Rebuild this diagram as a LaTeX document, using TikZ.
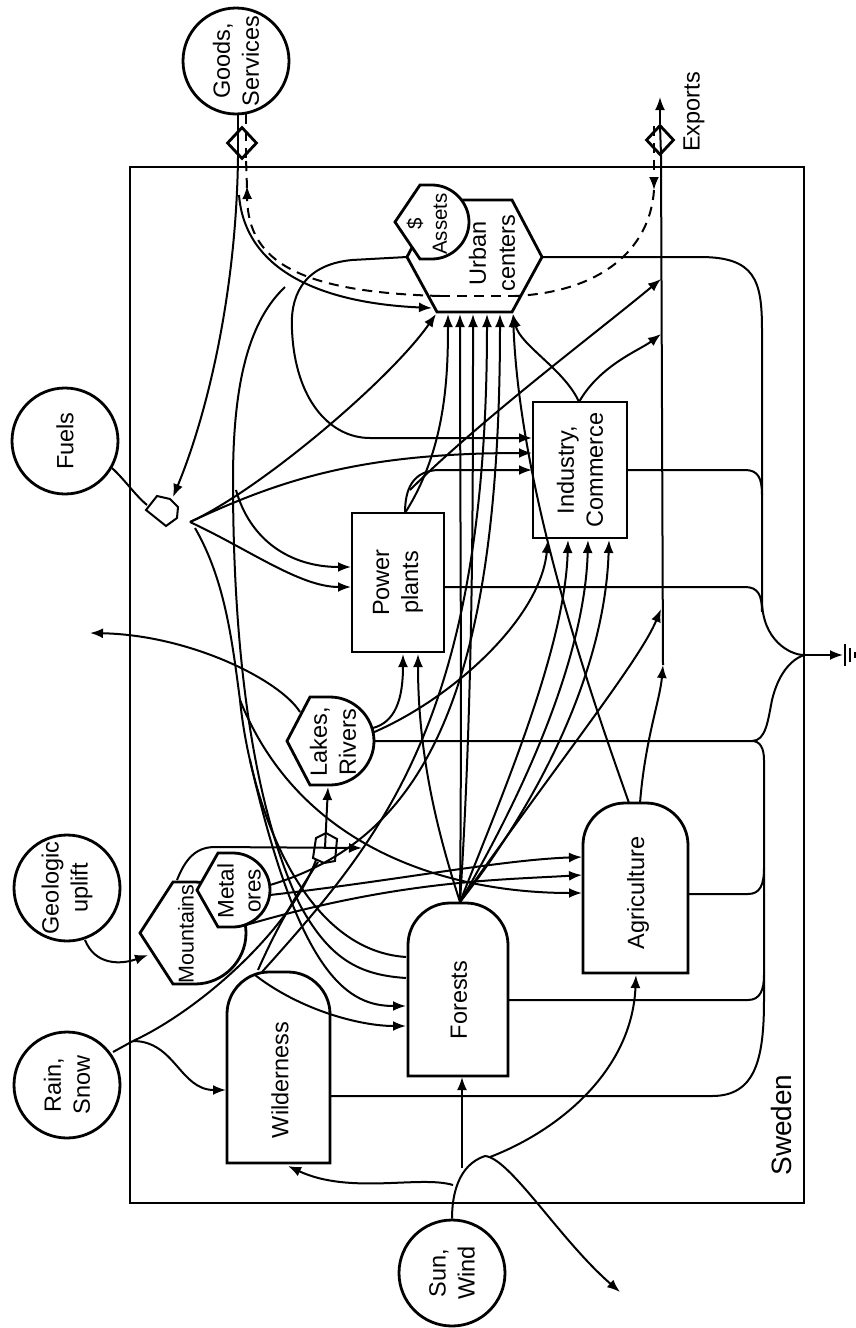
\documentclass[tikz,border=0pt]{standalone}
\usepackage{fontspec}
\setmainfont{Liberation Sans}
\usetikzlibrary{arrows.meta,shapes.geometric}
\newcommand\dgf{\fontsize{23.5}{29}\selectfont}
\begin{document}
\begin{tikzpicture}[x=1pt,y=-1pt,
  ln/.style={line width=2pt},
  arr/.style={line width=2pt,-{Latex[length=13pt,width=10pt]}},
  money/.style={line width=2pt,dash pattern=on 10pt off 7pt},
  shp/.style={draw,line width=2.8pt,fill=white},
  src/.style={shp,circle,minimum size=106pt,inner sep=0pt},
  blk/.style={shp,rectangle,inner sep=0pt},
  lab/.style={font=\dgf,align=center,rotate=90,inner sep=0pt},
  tx/.style={shp,diamond,minimum width=30pt,minimum height=32pt,inner sep=0pt}
]
\useasboundingbox (0,0) rectangle (856,1328);
\draw[line width=2.8pt] (130,167) rectangle (804,1203);
\node[lab,font=\fontsize{28}{32}\selectfont] (swe) at (781,1125) {Sweden};

% ---------- sources
\node[src] (goods) at (236,61) {}; \node[lab] at (goods) {Goods,\\Services};
\node[src] (fuels) at (65,441) {}; \node[lab] at (fuels) {Fuels};
\node[src] (geo) at (67,888) {}; \node[lab] at (geo) {Geologic\\uplift};
\node[src] (rain) at (67,1085) {}; \node[lab] at (rain) {Rain,\\Snow};
\node[src] (sun) at (452,1273) {}; \node[lab] at (sun) {Sun,\\Wind};

% ---------- storages / units
\node[blk,minimum width=92pt,minimum height=139pt] (pp) at (398,582.5) {};
\node[lab] at (pp) {Power\\plants};
\node[blk,minimum width=94pt,minimum height=136pt] (ind) at (580,470) {};
\node[lab] at (ind) {Industry,\\Commerce};

\draw[shp] (227,1163) -- (227,1014) .. controls (227,991) and (246,972) .. (269,972) -- (288,972) .. controls (311,972) and (330,991) .. (330,1014) -- (330,1163) -- cycle;
\node[lab] (wild) at (280,1080) {Wilderness};
\draw[shp] (408,1076) -- (408,945) .. controls (408,922) and (427,903) .. (450,903) -- (466,903) .. controls (489,903) and (508,922) .. (508,945) -- (508,1076) -- cycle;
\node[lab] (for) at (459,1000) {Forests};
\draw[shp] (583,973) -- (583,845) .. controls (583,822) and (602,803) .. (625,803) -- (646,803) .. controls (669,803) and (688,822) .. (688,845) -- (688,973) -- cycle;
\node[lab] (agr) at (638,893) {Agriculture};

\draw[shp] (407,257) -- (437,200) -- (512,200) -- (542,257) -- (512,312) -- (437,312) -- cycle;
\node[lab] (urb) at (492,253) {Urban\\centers};
\draw[shp] (395,222) -- (420,185) -- (432,185) .. controls (452,185) and (469,202) .. (469,222) .. controls (469,242) and (452,259) .. (432,259) -- (420,259) -- cycle;
\node[lab,font=\fontsize{20.5}{25}\selectfont] (ast) at (427,224) {\$\\Assets};

\draw[shp] (287,741) -- (310,697) -- (330,697) .. controls (354,697) and (374,717) .. (374,741) .. controls (374,765) and (354,785) .. (330,785) -- (310,785) -- cycle;
\node[lab] (lak) at (333,742) {Lakes,\\Rivers};
\draw[shp] (140,933) -- (173,882) -- (195,882) .. controls (223,882) and (246,905) .. (246,933) .. controls (246,961) and (223,984) .. (195,984) -- (173,984) -- cycle;
\node[lab,font=\fontsize{21.5}{27}\selectfont] (mtn) at (186,934) {Mountains};
\draw[shp] (197,890) -- (218,853) -- (233,853) .. controls (253,853) and (270,870) .. (270,890) .. controls (270,910) and (253,927) .. (233,927) -- (218,927) -- cycle;
\node[lab,font=\fontsize{22.5}{27}\selectfont] (ore) at (239,891) {Metal\\ores};

% interactions and transactions
\draw[shp,line width=2pt] (146,510) -- (157,496) -- (170,499) -- (178,507) -- (177,518) -- (166,526) -- cycle;
\coordinate (fi) at (163,511);
\draw[shp,line width=2pt] (313,858) -- (316,838) -- (326,833) -- (337,839) -- (335,861) -- (324,863) -- cycle;
\coordinate (li) at (325,848);
\node[tx] (tg) at (242,143) {};
\node[tx,minimum width=28pt,minimum height=30pt] (te) at (660,140) {};

% sink
\coordinate (sk) at (804,655);
\draw[arr] (sk) -- (843,655);
\draw[line width=2pt] (845,644) -- (845,666) (850,648) -- (850,662) (855,652) -- (855,658);

% exports
\draw[ln] (663,665) -- (661,155) -- (660,125);
\draw[arr] (te.north) -- (660,97);
\node[lab] (exl) at (694,112) {Exports};

% goods, services
\draw[ln] (238,114) -- (238,160);
\draw[arr] (238,158) .. controls (236,300) and (205,420) .. (173,497);
\draw[arr] (239,195) .. controls (245,270) and (320,303) .. (432,308);
\draw[ln] (285,287) .. controls (250,320) and (233,380) .. (233,480) .. controls (233,640) and (250,800) .. (300,905) .. controls (330,960) and (360,975) .. (406,978);

% money (dashed)
\draw[money] (246,114) -- (246,158);
\draw[money,-{Latex[length=13pt,width=10pt]}] (440,296) .. controls (300,292) and (248,262) .. (247,186);
\draw[money] (247,188) -- (246,158);
\draw[money] (440,296) -- (515,296);
\draw[money,-{Latex[length=13pt,width=10pt]}] (654,126) -- (654,190);
\draw[money] (654,190) .. controls (650,250) and (600,292) .. (515,296);

% fuels
\draw[ln] (112,468) .. controls (125,480) and (135,495) .. (147,505);
\draw[arr] (190,522) .. controls (260,490) and (390,380) .. (436,314);
\draw[arr] (190,522) .. controls (280,480) and (360,453) .. (532,453);
\draw[arr] (190,522) .. controls (250,550) and (300,587) .. (351,587);
\draw[arr] (236,490) .. controls (250,540) and (290,567) .. (351,567);
\draw[ln] (195,528) .. controls (225,580) and (232,640) .. (240,700) .. controls (250,800) and (300,950) .. (406,957);

% urban loop to industry, industry, power
\draw[arr] (407,257) -- (352,260) .. controls (300,265) and (290,300) .. (292,330) .. controls (295,400) and (330,438) .. (370,438) -- (532,438);
\draw[arr] (405,513) .. controls (405,490) and (412,470) .. (440,470) -- (532,470);
\draw[arr] (410,490) .. controls (480,420) and (600,330) .. (661,279);
\draw[arr] (405,513) .. controls (445,450) and (448,380) .. (448,314);
\draw[arr] (579,402) .. controls (565,370) and (520,345) .. (513,314);
\draw[arr] (579,402) .. controls (600,365) and (640,350) .. (661,334);

% heat sinks
\draw[ln] (542,257) -- (700,257) .. controls (755,257) and (762,280) .. (762,330) -- (762,600) .. controls (762,640) and (790,655) .. (sk);
\draw[ln] (627,470) -- (745,470) .. controls (758,470) and (762,478) .. (762,495);
\draw[ln] (444,587) -- (745,587) .. controls (758,587) and (762,595) .. (762,612);
\draw[ln] (374,741) -- (752,741) .. controls (766,741) and (768,720) .. (772,700) .. controls (778,675) and (790,660) .. (sk);
\draw[ln] (330,1096) -- (712,1096) .. controls (755,1096) and (764,1060) .. (764,1000) -- (764,760) .. controls (764,748) and (760,741) .. (752,741);
\draw[ln] (508,1000) -- (748,1000) .. controls (760,1000) and (764,990) .. (764,975);
\draw[ln] (688,894) -- (748,894) .. controls (760,894) and (764,885) .. (764,868);

% lakes
\draw[arr] (300,712) .. controls (280,680) and (190,635) .. (90,633);
\draw[arr] (373,728) .. controls (395,722) and (403,700) .. (403,654);
\draw[arr] (372,733) .. controls (450,700) and (540,620) .. (548,540);
\draw[arr] (li) -- (328,787);

% forests outputs
\draw[arr] (460,902) .. controls (440,840) and (418,760) .. (418,654);
\draw[arr] (460,902) .. controls (500,800) and (565,650) .. (568,540);
\draw[arr] (460,902) .. controls (520,800) and (585,660) .. (588,540);
\draw[arr] (460,902) .. controls (540,800) and (605,670) .. (609,540);
\draw[arr] (460,902) .. controls (560,760) and (640,660) .. (661,609);
\draw[arr] (460,902) .. controls (462,700) and (460,500) .. (460,314);
\draw[arr] (460,902) .. controls (473,700) and (473,500) .. (473,314);
\draw[arr] (262,972) .. controls (380,840) and (487,720) .. (487,314);
\draw[arr] (270,885) .. controls (420,840) and (500,700) .. (500,314);

% agriculture
\draw[arr] (640,803) .. controls (645,740) and (660,700) .. (663,665);
\draw[arr] (629,803) .. controls (600,720) and (520,500) .. (513,314);

% geologic, mountains, ores
\draw[arr] (85,940) .. controls (95,965) and (120,965) .. (148,955);
\draw[arr] (177,880) .. controls (185,860) and (195,847) .. (215,847) -- (362,848);
\draw[ln] (258,970) .. controls (280,920) and (300,890) .. (318,862);
\draw[arr] (270,895) .. controls (400,880) and (500,860) .. (582,857);
\draw[arr] (246,925) .. controls (400,880) and (500,880) .. (582,875);
\draw[arr] (240,700) .. controls (300,850) and (450,893) .. (582,893);
\draw[arr] (250,760) .. controls (300,980) and (350,1006) .. (406,1006);
\draw[arr] (255,975) .. controls (300,1010) and (360,1026) .. (406,1026);

% rain, snow
\draw[ln] (113,1052) -- (133,1041);
\draw[arr] (133,1041) .. controls (175,1041) and (180,1090) .. (226,1090);
\draw[ln] (133,1041) .. controls (200,1010) and (290,930) .. (316,860);

% sun, wind
\draw[ln] (sun.north) .. controls (452,1195) and (458,1165) .. (485,1156);
\draw[arr] (462,1168) -- (462,1077);
\draw[arr] (453,1185) .. controls (420,1175) and (350,1195) .. (288,1166);
\draw[arr] (485,1156) .. controls (510,1158) and (560,1240) .. (620,1292);
\draw[arr] (490,1157) .. controls (560,1130) and (632,1070) .. (636,975);
\end{tikzpicture}
\end{document}
